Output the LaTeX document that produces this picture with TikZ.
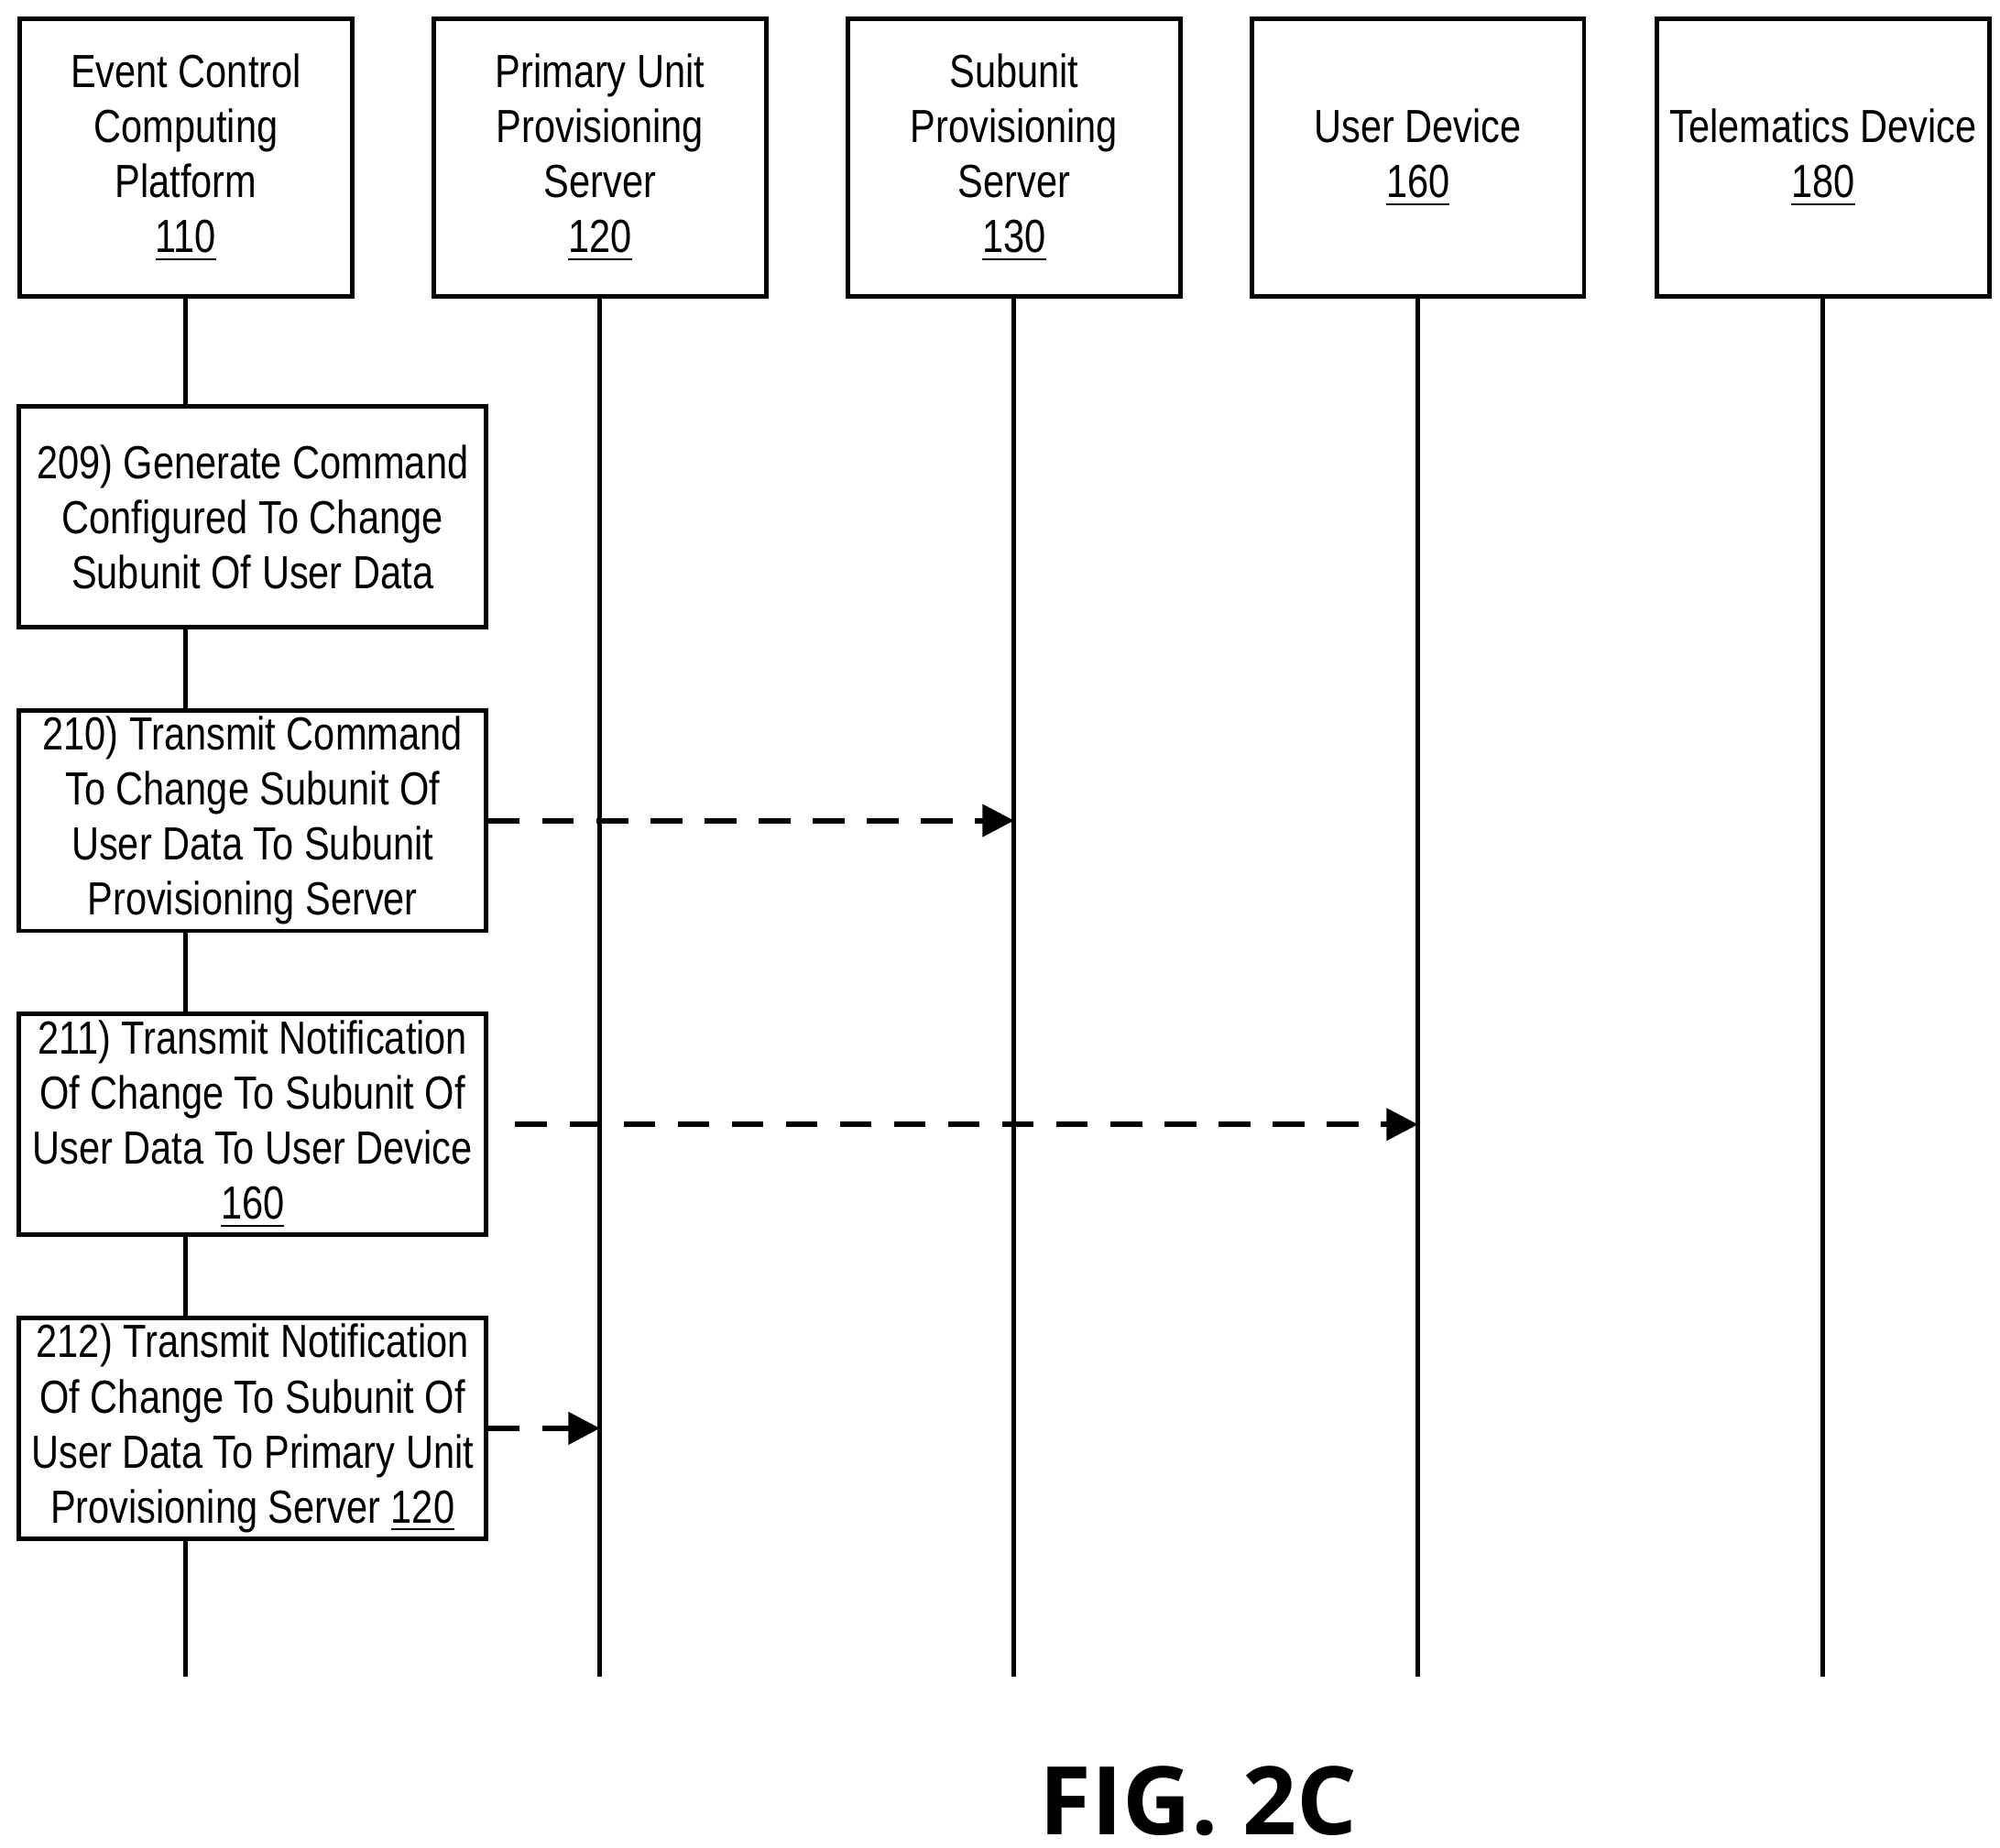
\documentclass[tikz,border=0pt]{standalone}
\usepackage{fontspec}
\setmainfont{Liberation Sans}[FakeStretch=0.82]
\newfontfamily\figfont{Open Sans}
\usetikzlibrary{arrows.meta}
\begin{document}
\begin{tikzpicture}[x=0.01cm,y=-0.01cm,
  box/.style={draw,line width=1pt,align=center,inner sep=0pt,font=\fontsize{10.3}{12.2}\selectfont},
  topbox/.style={box,minimum width=2.59cm,minimum height=2.16cm},
  stepbox/.style={box,minimum width=3.64cm,minimum height=1.72cm},
  life/.style={line width=1pt},
  msg/.style={line width=1.2pt,dash pattern=on 7pt off 5pt,-{Triangle[length=7pt,width=7pt]}}]
\useasboundingbox (0,0) rectangle (1560,1441);
% top boxes
\node[topbox] (t1) at (145,123) {Event Control\\Computing\\Platform\\\underline{110}};
\node[topbox] (t2) at (468,123) {Primary Unit\\Provisioning\\Server\\\underline{120}};
\node[topbox] (t3) at (791,123) {Subunit\\Provisioning\\Server\\\underline{130}};
\node[topbox] (t4) at (1106,123) {User Device\\\underline{160}};
\node[topbox] (t5) at (1422,123) {Telematics Device\\\underline{180}};
% step boxes
\node[stepbox] (s9) at (197,403) {209) Generate Command\\Configured To Change\\Subunit Of User Data};
\node[stepbox] (s10) at (197,640) {210) Transmit Command\\To Change Subunit Of\\User Data To Subunit\\Provisioning Server};
\node[stepbox] (s11) at (197,877) {211) Transmit Notification\\Of Change To Subunit Of\\User Data To User Device\\\underline{160}};
\node[stepbox] (s12) at (197,1114) {212) Transmit Notification\\Of Change To Subunit Of\\User Data To Primary Unit\\Provisioning Server \underline{120}};
% lifelines
\coordinate (e1) at (145,1308);
\coordinate (e2) at (468,1308);
\coordinate (e3) at (791,1308);
\coordinate (e4) at (1106,1308);
\coordinate (e5) at (1422,1308);
\draw[life] (t1.south) -- (t1.south |- s9.north);
\draw[life] (t1.south |- s9.south) -- (t1.south |- s10.north);
\draw[life] (t1.south |- s10.south) -- (t1.south |- s11.north);
\draw[life] (t1.south |- s11.south) -- (t1.south |- s12.north);
\draw[life] (t1.south |- s12.south) -- (e1);
\draw[life] (t2.south) -- (e2);
\draw[life] (t3.south) -- (e3);
\draw[life] (t4.south) -- (e4);
\draw[life] (t5.south) -- (e5);
% messages
\draw[msg] (s10.east) -- (s10.east -| t3.south);
\draw[msg] ([xshift=6]s11.east) -- (s11.east -| t4.south);
\draw[msg] (s12.east) -- (s12.east -| t2.south);
\node[font=\figfont\bfseries\fontsize{21}{24}\selectfont] (fig) at (935,1405) {FIG. 2C};
\end{tikzpicture}
\end{document}
